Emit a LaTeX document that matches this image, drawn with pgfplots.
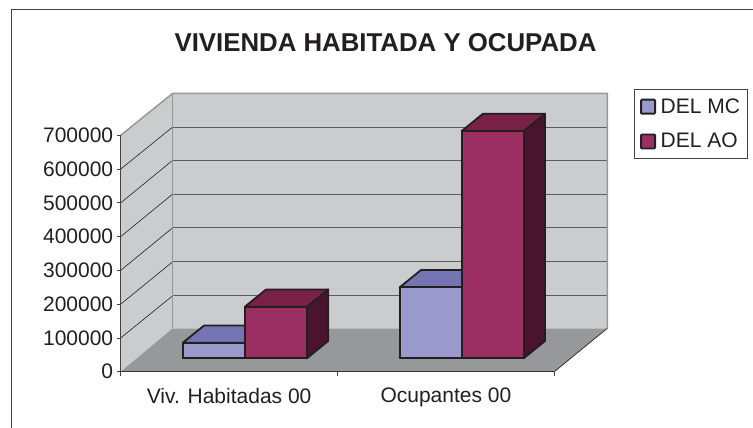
\documentclass[border=0pt]{standalone}
\usepackage{pgfplots}
\pgfplotsset{compat=1.18}
\usepackage{fontspec}
\setmainfont{Liberation Sans}
\definecolor{wall}{HTML}{CBCCCE}
\definecolor{floorc}{HTML}{97989A}
\definecolor{edgec}{HTML}{96989A}
\definecolor{gridc}{HTML}{5A5C5E}
\definecolor{ink}{HTML}{231F20}
\definecolor{bluef}{HTML}{9999CC}
\definecolor{bluet}{HTML}{7575B5}
\definecolor{redf}{HTML}{9B2F62}
\definecolor{redt}{HTML}{7A2148}
\definecolor{reds}{HTML}{4A132E}
\begin{document}
\begin{tikzpicture}[x=1pt,y=1pt]
\path[use as bounding box] (0,0) rectangle (753,428);
\draw[ink!85,line width=1pt] (11,0) -- (11,418.5) -- (753,418.5);
\begin{axis}[
  at={(120.7pt,56.3pt)}, anchor=origin,
  scale only axis, width=433.6pt, height=236.4pt,
  xmin=0, xmax=2, ymin=0, ymax=700000, clip=false,
  axis x line*=bottom, axis y line*=left,
  axis on top,
  x axis line style={-,draw=ink!90,line width=1.6pt},
  y axis line style={-,draw=ink!85,line width=0.9pt},
  tick align=outside, major tick length=4pt,
  tick style={draw=ink!85,line width=0.8pt},
  xtick={0,1,2}, xticklabels={,,},
  extra x ticks={0.5,1.5},
  extra x tick labels={Viv. Habitadas 00,Ocupantes 00},
  extra x tick style={tick style={draw=none}},
  ytick={0,100000,200000,300000,400000,500000,600000,700000},
  scaled y ticks=false,
  yticklabel style={/pgf/number format/.cd,fixed,1000 sep={},assume math mode=true},
  ticklabel style={font=\fontsize{21}{25}\selectfont,text=ink},
  xticklabel style={yshift=-9pt},
  title={\textbf{VIVIENDA HABITADA Y OCUPADA}},
  title style={at={(axis description cs:0.6107,1.367)},anchor=center,font=\fontsize{25.8}{30}\selectfont,text=ink},
  legend style={at={(axis description cs:1.1845,1.1943)},anchor=north west,
    draw=ink!85,line width=0.8pt,font=\fontsize{21}{25}\selectfont,text=ink,
    inner xsep=5.5pt,inner ysep=6.8pt,row sep=14.6pt,cells={anchor=west}},
  legend cell align=left,
  bardepth/.style={xshift=15.8pt,yshift=13.4pt},
  face/.style={forget plot,bardepth,draw=ink,line width=1.8pt,line join=round},
]
% walls and floor
\addplot[forget plot,fill=wall,draw=none] coordinates {(0,0)(0.24,128500)(0.24,824400)(0,700000)} --cycle;
\addplot[forget plot,fill=wall,draw=none] coordinates {(0.24,128500)(2.2445,128500)(2.2445,824400)(0.24,824400)} --cycle;
\addplot[forget plot,fill=floorc,draw=none] coordinates {(0,0)(2,0)(2.2445,128500)(0.24,128500)} --cycle;
% gridlines on the back wall
\pgfplotsinvokeforeach{225000,325700,426400,526200,626000,724600}{
  \addplot[forget plot,draw=gridc,line width=0.9pt] coordinates {(0.24,#1)(2.2445,#1)};
}
% gridlines on the side wall
\addplot[forget plot,draw=ink,line width=0.6pt] coordinates {(0,100000)(0.24,225000)};
\addplot[forget plot,draw=ink,line width=0.6pt] coordinates {(0,200000)(0.24,325700)};
\addplot[forget plot,draw=ink,line width=0.6pt] coordinates {(0,300000)(0.24,426400)};
\addplot[forget plot,draw=ink,line width=0.6pt] coordinates {(0,400000)(0.24,526200)};
\addplot[forget plot,draw=ink,line width=0.6pt] coordinates {(0,500000)(0.24,626000)};
\addplot[forget plot,draw=ink,line width=0.6pt] coordinates {(0,600000)(0.24,724600)};
% wall edges
\addplot[forget plot,draw=edgec,line width=1.5pt,line join=round] coordinates {(0,700000)(0.24,824400)(2.2445,824400)(2.2445,128500)};
\addplot[forget plot,draw=edgec,line width=1.5pt] coordinates {(0.24,824400)(0.24,128500)};
\addplot[forget plot,draw=ink,line width=0.7pt] coordinates {(2,0)(2.2445,128500)};
% series 1: DEL MC
\addplot[face,fill=bluet] coordinates {(0.214,46200)(0.5,46200)(0.5982,97400)(0.3122,97400)} --cycle;
\addplot[face,fill=bluet] coordinates {(1.214,210200)(1.5,210200)(1.5982,261400)(1.3122,261400)} --cycle;
\addplot[face,ybar,bar width=62pt,bar shift=-31pt,fill=bluef] coordinates {(0.5,46200)(1.5,210200)};
% series 2: DEL AO
\addplot[face,fill=reds] coordinates {(0.786,0)(0.786,152800)(0.8842,204000)(0.8842,51200)} --cycle;
\addplot[face,fill=reds] coordinates {(1.786,0)(1.786,673000)(1.8842,724200)(1.8842,51200)} --cycle;
\addplot[face,fill=redt] coordinates {(0.5,152800)(0.786,152800)(0.8842,204000)(0.5982,204000)} --cycle;
\addplot[face,fill=redt] coordinates {(1.5,673000)(1.786,673000)(1.8842,724200)(1.5982,724200)} --cycle;
\addplot[face,ybar,bar width=62pt,bar shift=31pt,fill=redf] coordinates {(0.5,152800)(1.5,673000)};
% closed bases of the bars
\addplot[face,line cap=round] coordinates {(0.214,0)(0.786,0)};
\addplot[face,line cap=round] coordinates {(1.214,0)(1.786,0)};
% legend
\addlegendimage{legend image code/.code={\draw[fill=bluef,draw=ink,line width=1.8pt,rounded corners=0.8pt] (0pt,-7pt) rectangle (14pt,7pt); \path[draw=none] (0pt,0pt) -- (17.5pt,0pt);}}
\addlegendentry{DEL MC}
\addlegendimage{legend image code/.code={\draw[fill=redf,draw=ink,line width=1.8pt,rounded corners=0.8pt] (0pt,-7pt) rectangle (14pt,7pt); \path[draw=none] (0pt,0pt) -- (17.5pt,0pt);}}
\addlegendentry{DEL AO}
\end{axis}
\end{tikzpicture}
\end{document}
